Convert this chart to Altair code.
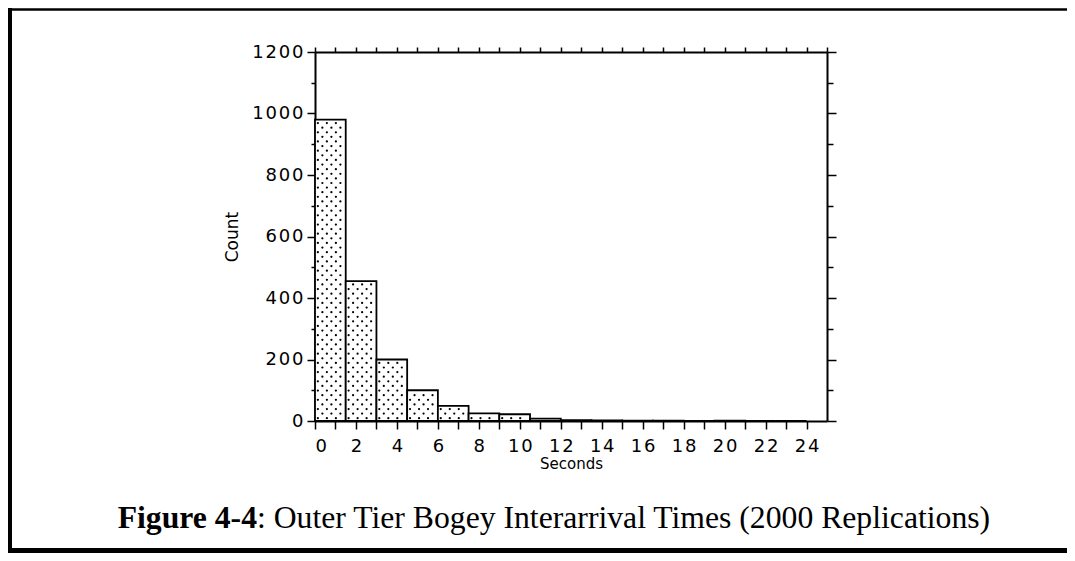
import altair as alt
import pandas as pd

# ---- data ----
bin_start = [0, 1.5, 3, 4.5, 6, 7.5, 9, 10.5, 12, 13.5, 15, 16.5, 18, 19.5, 21, 22.5]
bin_end = [1.5, 3, 4.5, 6, 7.5, 9, 10.5, 12, 13.5, 15, 16.5, 18, 19.5, 21, 22.5, 24]
counts = [980, 455, 200, 100, 49, 25, 22, 8, 3, 2, 1, 1, 0, 1, 0, 0]

x_title = "Seconds"
y_title = "Count"
caption_bold = ["Figure 4-4"]
caption_rest = [": Outer Tier Bogey Interarrival Times (2000 Replications)"]

bars_df = pd.DataFrame({"start": bin_start, "end": bin_end, "count": counts})

W, H = 512, 369
xscale = alt.Scale(domain=[0, 25], nice=False, zero=True)
yscale = alt.Scale(domain=[0, 1200], nice=False)
SP = "\u200a"
spaced = f"join(split(datum.label, ''), '{SP}')"

axis_common = dict(
    domainColor="black", domainWidth=2, tickColor="black", tickWidth=1.5,
    labelColor="black", labelFont="DejaVu Sans", labelFontSize=18,
    titleColor="black", titleFont="DejaVu Sans", titleFontWeight="normal",
    grid=False,
)

bars = alt.Chart(bars_df).mark_rect(fill="white", stroke="black", strokeWidth=1.8).encode(
    x=alt.X("start:Q", scale=xscale,
            axis=alt.Axis(orient="bottom", values=list(range(0, 25)), format="d",
                          labelExpr=f"datum.value % 2 === 0 ? {spaced} : ''",
                          tickSize=8, labelPadding=8, title=x_title, titleFontSize=15,
                          titlePadding=1, **axis_common)),
    x2="end:Q",
    y=alt.Y("count:Q", scale=yscale,
            axis=alt.Axis(orient="left", values=list(range(0, 1201, 100)), format="d",
                          labelExpr=f"datum.value % 200 === 0 ? {spaced} : ''",
                          tickSize={"condition": {"test": "datum.value % 200 === 0", "value": 8}, "value": 4},
                          labelPadding=4, title=y_title, titleFontSize=17, titlePadding=10,
                          **axis_common)),
)

# stipple texture derived from each bar
dots = alt.Chart(bars_df).transform_calculate(
    row="sequence(0, floor(datum.count / 15))"
).transform_flatten(["row"]).transform_calculate(
    dot_y="(datum.row + 0.6) * 15"
).transform_filter("datum.dot_y < datum.count - 5").transform_calculate(
    col="sequence(0, 4)"
).transform_flatten(["col"]).transform_calculate(
    dot_x="datum.start + 0.14 + datum.col * 0.44 + (datum.row % 2) * 0.22"
).transform_filter("datum.dot_x < datum.end - 0.1").mark_circle(
    size=5, color="black", opacity=1
).encode(
    x=alt.X("dot_x:Q", scale=xscale,
            axis=alt.Axis(orient="top", values=list(range(0, 26)), labels=False,
                          tickSize=5, title=None, **axis_common)),
    y=alt.Y("dot_y:Q", scale=yscale,
            axis=alt.Axis(orient="right", values=list(range(0, 1201, 100)), labels=False,
                          tickSize={"condition": {"test": "datum.value % 200 === 0", "value": 9}, "value": 6},
                          title=None, **axis_common)),
)

one = alt.Data(values=[{"k": 1}])
frame_left = alt.Chart(one).mark_rule(color="black", strokeWidth=4).encode(
    x=alt.value(-305), y=alt.value(-44), y2=alt.value(501))
frame_top = alt.Chart(one).mark_rule(color="black", strokeWidth=2.5).encode(
    x=alt.value(-307), x2=alt.value(752), y=alt.value(-42.5))
frame_bottom = alt.Chart(one).mark_rule(color="black", strokeWidth=5).encode(
    x=alt.value(-307), x2=alt.value(752), y=alt.value(498.5))

cap_df = pd.DataFrame({"bold": caption_bold, "rest": caption_rest})
cap_bold = alt.Chart(cap_df).mark_text(
    align="right", baseline="alphabetic", font="Liberation Serif", fontWeight="bold",
    fontSize=31.7, color="black").encode(x=alt.value(-58), y=alt.value(476), text="bold:N")
cap_rest = alt.Chart(cap_df).mark_text(
    align="left", baseline="alphabetic", font="Liberation Serif", fontWeight="normal",
    fontSize=31.7, color="black").encode(x=alt.value(-58), y=alt.value(476), text="rest:N")

chart = alt.layer(bars, dots, frame_left, frame_top, frame_bottom, cap_bold, cap_rest).resolve_axis(
    x="independent", y="independent"
).properties(
    width=W, height=H,
    autosize=alt.AutoSizeParams(type="none"),
    padding={"left": 307, "top": 44, "right": 240, "bottom": 132},
    background="white",
).configure_view(stroke=None)

chart.save("out.html", embed_options={"renderer": "svg", "actions": False})
